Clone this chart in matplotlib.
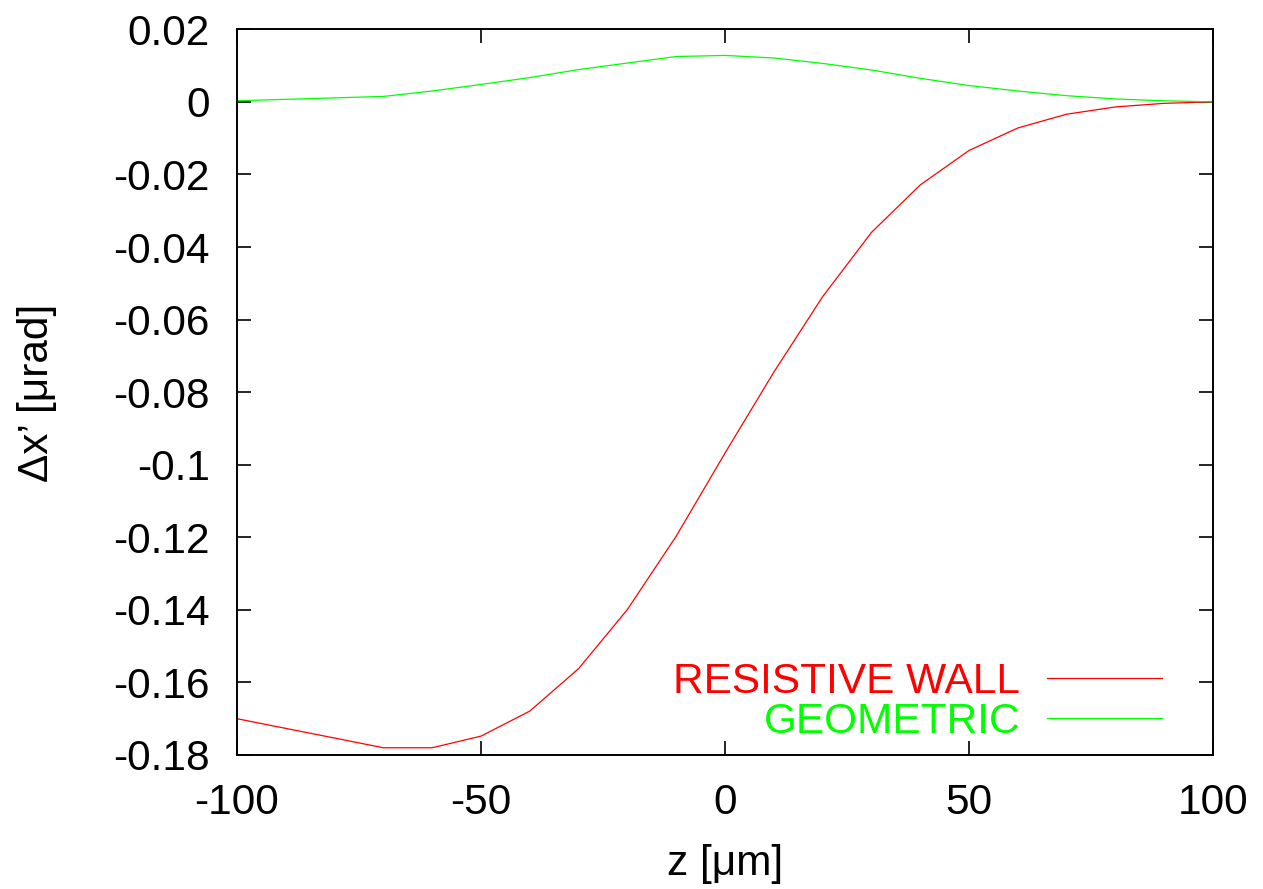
import numpy as np
import matplotlib
matplotlib.use("Agg")
import matplotlib.pyplot as plt

# z positions [um] and kicks [urad]
z_wall = [-100, -70, -60, -50, -40, -30, -20, -10, 0, 10, 20, 30, 40, 50, 60, 70, 80, 90, 100]
resistive_wall = [-0.170, -0.178, -0.178, -0.1748, -0.1679, -0.1562, -0.1399, -0.1197, -0.0968,
                  -0.0745, -0.0537, -0.0360, -0.0229, -0.0134, -0.0072, -0.0034, -0.0014, -0.0004, 0.0]

z_geo = [-100, -70, -60, -50, -40, -30, -20, -10, 0, 10, 20, 30, 40, 50, 60, 70, 80, 90, 100]
geometric = [0.0003, 0.0015, 0.0030, 0.0048, 0.0067, 0.0089, 0.0107, 0.0125, 0.0128,
             0.0121, 0.0106, 0.0088, 0.0065, 0.0045, 0.0030, 0.0017, 0.0008, 0.0003, 0.0]

x_ticks = [-100, -50, 0, 50, 100]
y_ticks = [0.02, 0, -0.02, -0.04, -0.06, -0.08, -0.1, -0.12, -0.14, -0.16, -0.18]

plt.rcParams["font.family"] = ["Liberation Sans", "DejaVu Sans"]
FS = 30.5

fig = plt.figure(figsize=(12.63, 8.89), dpi=100)
ax = fig.add_axes([237 / 1263, 1 - 755 / 889, (1213 - 237) / 1263, (755 - 29.3) / 889])

ax.plot(z_wall, resistive_wall, color="#ff0000", lw=0.9, label="RESISTIVE WALL")
ax.plot(z_geo, geometric, color="#00ff00", lw=0.9, label="GEOMETRIC")

ax.set_xlim(-100, 100)
ax.set_ylim(-0.18, 0.02)
ax.set_xticks(x_ticks)
ax.set_yticks(y_ticks)
ax.set_xticklabels([f"{t:g}" for t in x_ticks])
ax.set_yticklabels([f"{t:g}" for t in y_ticks])
ax.tick_params(direction="in", length=10, width=1.2, labelsize=FS,
               top=True, right=True, color="black")
ax.tick_params(axis="y", pad=19.5)
ax.tick_params(axis="x", pad=20)
for sp in ax.spines.values():
    sp.set_linewidth(1.4)

fig.text(725 / 1263, 1 - 864 / 889, "z [\u03bcm]", fontsize=FS, ha="center", va="center")
fig.text(37 / 1263, 1 - 393 / 889, "\u0394x\u2019 [\u03bcrad]", fontsize=FS,
         ha="center", va="center", rotation=90)

ax.legend(loc="lower right", bbox_to_anchor=((1162 - 237) / 976, 0.018),
          frameon=False, markerfirst=False, fontsize=FS, labelcolor="linecolor",
          handlelength=2.71, handletextpad=0.64, labelspacing=0.0,
          borderpad=0, borderaxespad=0)

fig.savefig("out.png", dpi=100)
